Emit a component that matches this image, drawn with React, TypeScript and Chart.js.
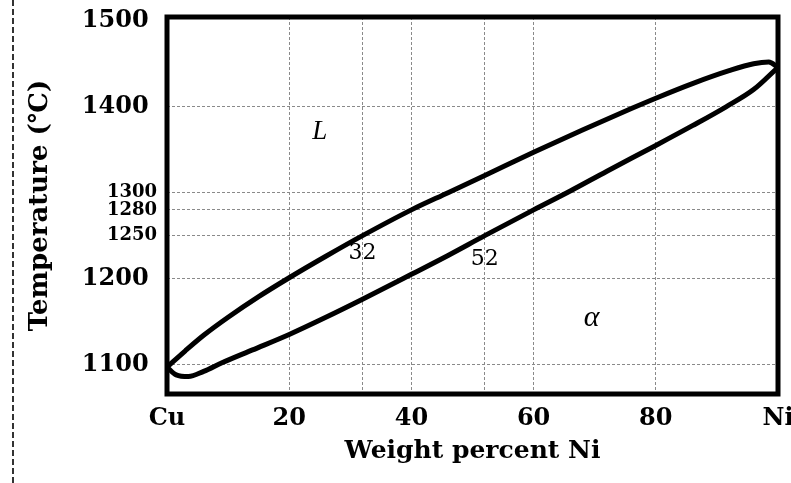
import React, { useEffect, useRef } from "react";
import { Chart, registerables } from "chart.js";

Chart.register(...registerables);

// Liquidus (upper boundary) : wt% Ni vs temperature
const liquidusNi = [0, 3, 6, 10, 15, 20, 26, 32, 40, 46, 52, 60, 68, 76, 80, 86, 92, 96, 98.5, 100];
const liquidusT = [1097, 1116, 1134, 1155, 1179, 1201, 1226, 1250, 1280, 1300, 1320, 1347, 1373, 1398, 1410, 1427, 1442, 1450, 1452, 1446];

// Solidus (lower boundary)
const solidusNi = [0, 1.5, 3.5, 6, 9, 14, 20, 26, 32, 40, 46, 52, 60, 66, 72, 80, 86, 91.5, 96, 100];
const solidusT = [1097, 1088, 1086, 1092, 1102, 1117, 1135, 1155, 1176, 1205, 1227, 1250, 1280, 1302, 1325, 1355, 1378, 1400, 1420, 1446];

// Axis ticks
const xTickValues = [0, 20, 32, 40, 52, 60, 80, 100];
const xTickLabels = ["Cu", "20", "", "40", "", "60", "80", "Ni"];
const yTickValues = [1100, 1200, 1250, 1280, 1300, 1400, 1500];
const ySmallTicks = [1250, 1280, 1300];

// In-plot labels
const regionLabels = ["L", "α", "32", "52"];
const regionNi = [25, 69.5, 32, 52];
const regionT = [1371, 1154, 1229, 1223];

const SERIF = '"DejaVu Serif", "Liberation Serif", serif';
const regionFonts = [
  'italic 27px "Liberation Serif", serif',
  'italic 30px "Liberation Serif", serif',
  '22px "DejaVu Serif", serif',
  '22px "DejaVu Serif", serif',
];

export default function App() {
  const ref = useRef<HTMLCanvasElement>(null);

  useEffect(() => {
    const canvas = ref.current;
    if (!canvas) return;

    const overlay = {
      id: "overlay",
      afterDatasetsDraw(chart: any) {
        const { ctx, chartArea: a, scales } = chart;
        ctx.save();
        // thick frame
        ctx.setLineDash([]);
        ctx.strokeStyle = "#000";
        ctx.lineWidth = 5;
        ctx.strokeRect(a.left, a.top, a.right - a.left, a.bottom - a.top);
        // region labels
        ctx.fillStyle = "#000";
        ctx.textAlign = "center";
        ctx.textBaseline = "middle";
        regionLabels.forEach((t, i) => {
          ctx.font = regionFonts[i];
          ctx.fillText(
            t,
            scales.x.getPixelForValue(regionNi[i]),
            scales.y.getPixelForValue(regionT[i])
          );
        });
        // page margin dashed line
        ctx.strokeStyle = "#333";
        ctx.lineWidth = 2;
        ctx.setLineDash([6, 3]);
        ctx.beginPath();
        ctx.moveTo(13, 0);
        ctx.lineTo(13, chart.height);
        ctx.stroke();
        ctx.restore();
      },
    };

    const lineStyle = {
      showLine: true,
      borderColor: "#000",
      backgroundColor: "#000",
      borderWidth: 5,
      pointRadius: 0,
      fill: false,
      cubicInterpolationMode: "monotone" as const,
    };

    const chart = new Chart(canvas, {
      type: "scatter",
      data: {
        datasets: [
          {
            label: "Liquidus",
            data: liquidusNi.map((x, i) => ({ x, y: liquidusT[i] })),
            ...lineStyle,
          },
          {
            label: "Solidus",
            data: solidusNi.map((x, i) => ({ x, y: solidusT[i] })),
            ...lineStyle,
          },
        ],
      },
      options: {
        animation: false,
        responsive: false,
        maintainAspectRatio: false,
        devicePixelRatio: 1,
        layout: { padding: { left: 0, top: 17, right: 13, bottom: 0 } },
        plugins: {
          legend: { display: false },
          tooltip: { enabled: false },
        },
        scales: {
          x: {
            type: "linear",
            min: 0,
            max: 100,
            afterBuildTicks: (s: any) => {
              s.ticks = xTickValues.map((v) => ({ value: v }));
            },
            afterFit: (s: any) => {
              s.height = 89;
              s.paddingLeft = 0;
              s.paddingRight = 0;
            },
            ticks: {
              autoSkip: false,
              maxRotation: 0,
              padding: 10,
              color: "#000",
              font: { family: SERIF, weight: "bold", size: 24 },
              callback: (v: any) => {
                const i = xTickValues.indexOf(Number(v));
                return i >= 0 ? xTickLabels[i] : "";
              },
            },
            grid: {
              drawTicks: false,
              lineWidth: 1,
              color: (c: any) =>
                c.tick && (c.tick.value === 0 || c.tick.value === 100)
                  ? "rgba(0,0,0,0)"
                  : "#8a8a8a",
            },
            border: { display: false, dash: [3, 2] },
            title: {
              display: true,
              text: "Weight percent Ni",
              color: "#000",
              font: { family: SERIF, weight: "bold", size: 25 },
              padding: { top: 0, bottom: 17 },
            },
          },
          y: {
            type: "linear",
            min: 1065.7,
            max: 1504.5,
            afterBuildTicks: (s: any) => {
              s.ticks = yTickValues.map((v) => ({ value: v }));
            },
            afterFit: (s: any) => {
              s.width = 167;
              s.paddingTop = 0;
              s.paddingBottom = 0;
            },
            ticks: {
              autoSkip: false,
              padding: 10,
              color: "#000",
              font: (c: any) =>
                c.tick && ySmallTicks.includes(c.tick.value)
                  ? { family: SERIF, weight: "bold", size: 18 }
                  : { family: SERIF, weight: "bold", size: 24 },
              callback: (v: any) =>
                ySmallTicks.includes(Number(v)) ? String(v) : String(v) + " ",
            },
            grid: {
              drawTicks: false,
              lineWidth: 1,
              color: (c: any) =>
                c.tick && c.tick.value === 1500 ? "rgba(0,0,0,0)" : "#8a8a8a",
            },
            border: { display: false, dash: [3, 2] },
            title: {
              display: true,
              text: "Temperature (℃)",
              color: "#000",
              font: { family: SERIF, weight: "bold", size: 26 },
              padding: { top: 25, bottom: 0 },
            },
          },
        },
      },
      plugins: [overlay],
    } as any);

    return () => chart.destroy();
  }, []);

  return (
    <div
      style={{
        position: "fixed",
        left: 0,
        top: 0,
        width: 791,
        height: 483,
        background: "#fff",
      }}
    >
      <canvas
        ref={ref}
        width={791}
        height={483}
        style={{ width: 791, height: 483, display: "block" }}
      />
    </div>
  );
}
